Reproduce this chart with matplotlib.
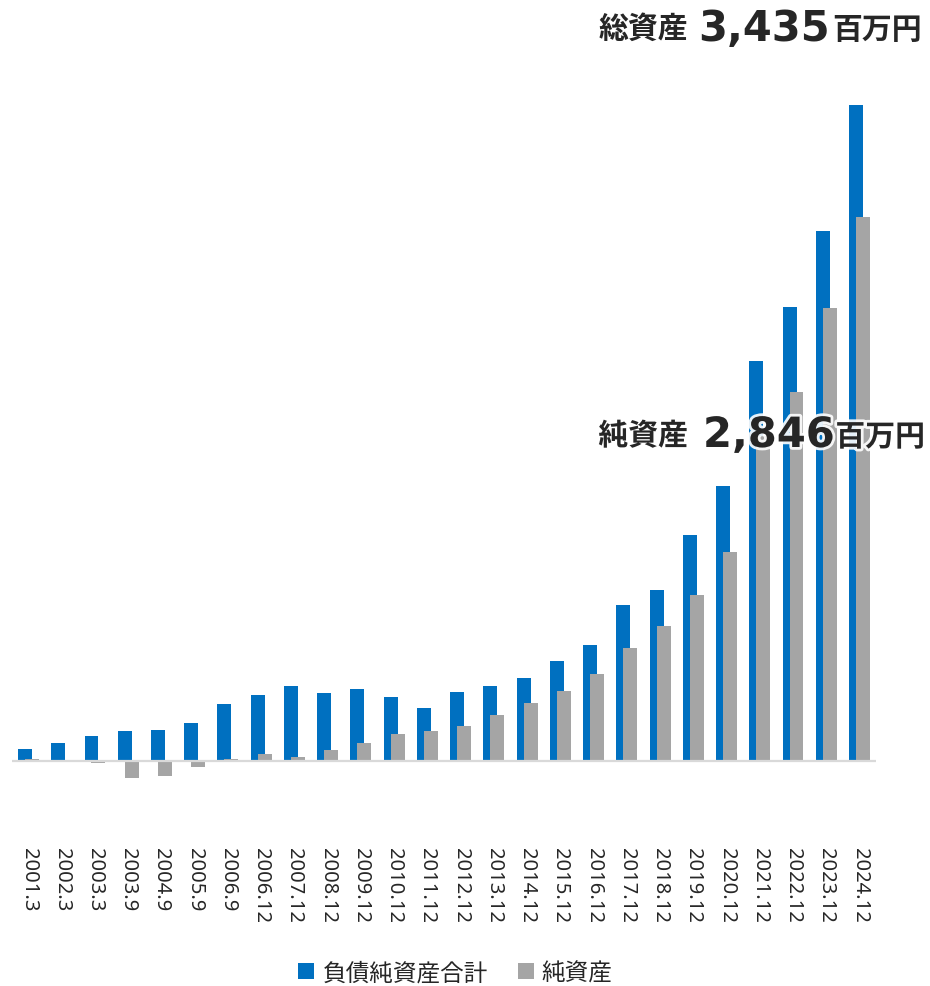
import numpy as np
import matplotlib
matplotlib.use("Agg")
import matplotlib.pyplot as plt
from matplotlib.patches import Patch
import matplotlib.patheffects as pe

# Period labels (fiscal year.month)
periods = ["2001.3", "2002.3", "2003.3", "2003.9", "2004.9", "2005.9", "2006.9",
           "2006.12", "2007.12", "2008.12", "2009.12", "2010.12", "2011.12",
           "2012.12", "2013.12", "2014.12", "2015.12", "2016.12", "2017.12",
           "2018.12", "2019.12", "2020.12", "2021.12", "2022.12", "2023.12",
           "2024.12"]

# 負債純資産合計 (total liabilities and net assets), million yen
total_assets = [61, 93, 128, 154, 161, 196, 297, 346, 390, 355, 377, 332, 276,
                358, 393, 433, 524, 606, 817, 896, 1182, 1439, 2095, 2375, 2776,
                3435]

# 純資産 (net assets), million yen
net_assets = [9, 2, -14, -91, -82, -31, 9, 33, 19, 56, 93, 140, 157,
              180, 241, 302, 367, 456, 589, 707, 868, 1093, 1700, 1933, 2372,
              2846]

legend_labels = ["負債純資産合計", "純資産"]

BLUE = "#0070C0"
GRAY = "#A5A5A5"
TEXT = "#262626"
CJK = ["Noto Sans CJK JP", "DejaVu Sans"]

W, H = 930, 987
fig = plt.figure(figsize=(W / 100, H / 100), dpi=100)

# axes placed in pixel terms: top at y=80, bottom at y=800
ax_top, ax_bot = 80, 800
ax = fig.add_axes([0, (H - ax_bot) / H, 1, (ax_bot - ax_top) / H])

x = np.arange(len(periods))
first_px, step_px = 28.5, 33.24
ax.set_xlim(-first_px / step_px, (W - first_px) / step_px)

zero_px = 761.7
px_per_unit = 655.7 / 3435
ax.set_ylim(-(ax_bot - zero_px) / px_per_unit, (zero_px - ax_top) / px_per_unit)

bw = 0.42
ax.bar(x - 0.105, total_assets, width=bw, color=BLUE, zorder=2)
ax.bar(x + 0.105, net_assets, width=bw, color=GRAY, zorder=3)
ax.plot([-0.5, len(periods) - 0.5], [0, 0], color="#D9D9D9", lw=1.6,
        solid_capstyle="butt", zorder=4)

ax.set_xticks(x)
ax.set_xticklabels(periods, rotation=-90, fontsize=14.5, family="Noto Sans",
                   color=TEXT)
ax.tick_params(axis="x", length=0, pad=34.5)
ax.set_yticks([])
for s in ax.spines.values():
    s.set_visible(False)

# legend at the bottom
handles = [Patch(facecolor=BLUE), Patch(facecolor=GRAY)]
leg = fig.legend(handles, legend_labels, loc="center",
                 bbox_to_anchor=(455.5 / W, 1 - 974 / H), ncol=2,
                 frameon=False, handlelength=0.68, handleheight=0.68,
                 handletextpad=0.34, columnspacing=1.27,
                 prop={"family": CJK, "size": 17})
for t in leg.get_texts():
    t.set_color(TEXT)


def fy(py):
    return 1 - py / H


halo = [pe.withStroke(linewidth=4, foreground="white", alpha=0.9)]

# headline: total assets
fig.text(688 / W, fy(38), "総資産", ha="right", va="baseline", fontsize=21.5,
         fontweight="bold", family=CJK, color=TEXT)
fig.text(698 / W, fy(41), f"{total_assets[-1]:,}", ha="left", va="baseline",
         fontsize=30, fontweight="bold", family="DejaVu Sans", color=TEXT)
fig.text(922 / W, fy(39), "百万円", ha="right", va="baseline", fontsize=21.5,
         fontweight="bold", family=CJK, color=TEXT)

# headline: net assets
fig.text(688 / W, fy(446), "純資産", ha="right", va="baseline", fontsize=21.5,
         fontweight="bold", family=CJK, color=TEXT, path_effects=halo, zorder=10)
fig.text(703 / W, fy(448), f"{net_assets[-1]:,}", ha="left", va="baseline",
         fontsize=30, fontweight="bold", family="DejaVu Sans", color=TEXT,
         path_effects=halo, zorder=10)
fig.text(925 / W, fy(447), "百万円", ha="right", va="baseline", fontsize=21.5,
         fontweight="bold", family=CJK, color=TEXT, path_effects=halo, zorder=10)

fig.savefig("out.png", dpi=100)
